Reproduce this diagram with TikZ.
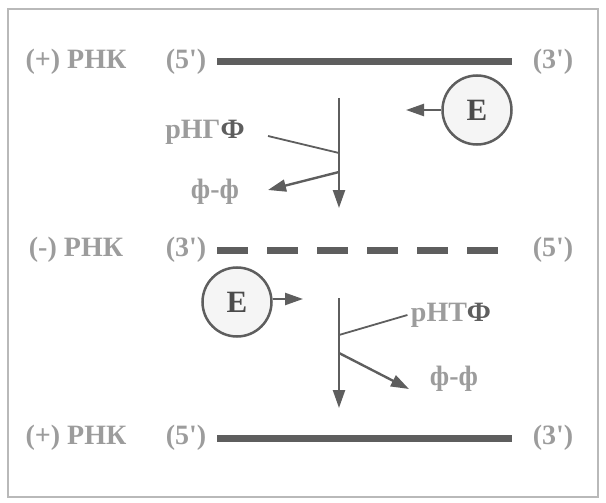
\documentclass[tikz,border=0pt]{standalone}
\usepackage{fontspec}
\setmainfont{Liberation Serif}
\usetikzlibrary{arrows.meta}
\definecolor{strand}{HTML}{5E5E5E}
\definecolor{labgray}{HTML}{9C9C9C}
\begin{document}
\begin{tikzpicture}[x=1pt, y=-1pt,
  every node/.style={font=\bfseries\fontsize{28}{28}\selectfont, text=labgray},
  rna/.style={strand, line width=7pt},
  flow/.style={strand, line width=2.4pt, -{Triangle[length=18pt,width=12pt]}},
  branch/.style={strand, line width=1.8pt},
  enz/.style={circle, draw=strand, line width=2.5pt, fill=gray!8,
    minimum size=69pt, inner sep=0pt, text=strand!80!black,
    font=\bfseries\fontsize{31}{31}\selectfont}]
  \useasboundingbox (0,0) rectangle (606,503);
  \draw[gray!55, line width=2pt] (8,9) rectangle (598,497);

  % strands and their ends
  \foreach \name/\y/\sgn/\lft/\rgt in {top/62/+/5/3, mid/250/-/3/5, bot/438/+/5/3}{
    \node (\name lab) at (76,\y) {(\sgn) РНК};
    \node (\name l) at (186,\y) {(\lft\textquotesingle)};
    \node (\name r) at (553,\y) {(\rgt\textquotesingle)};
  }
  \draw[rna] (217,62) -- (512,62);
  \draw[rna, dash pattern=on 31pt off 19pt] (217,250) -- (500,250);
  \draw[rna] (217,438) -- (512,438);

  % first copy
  \coordinate (s1) at (339,98);
  \coordinate (e1) at (339,208);
  \coordinate (j1) at (339,153);
  \coordinate (k1) at (339,172);
  \coordinate (t1) at (268,136);
  \coordinate (p1) at (268,190);
  \node (ntp1) at (205,132) {рНГ{\color{strand}Ф}};
  \node (pp1) at (215,192) {ф-ф};
  \draw[flow] (s1) -- (e1);
  \draw[branch] (t1) -- (j1);
  \draw[flow] (k1) -- (p1);
  \node[enz] (E1) at (477,110) {Е};
  \coordinate (a1) at (406,110);
  \draw[flow] (E1.west) -- (a1);

  % second copy
  \coordinate (s2) at (339,298);
  \coordinate (e2) at (339,408);
  \coordinate (j2) at (339,335);
  \coordinate (k2) at (339,353);
  \coordinate (p2) at (409,389);
  \node (ntp2) at (451,315) {рНТ{\color{strand}Ф}};
  \node (pp2) at (454,379) {ф-ф};
  \draw[flow] (s2) -- (e2);
  \draw[branch] (j2) -- (ntp2.west);
  \draw[flow] (k2) -- (p2);
  \node[enz] (E2) at (237,302) {Е};
  \coordinate (a2) at (303,299);
  \draw[flow] (E2.east |- a2) -- (a2);
\end{tikzpicture}
\end{document}
